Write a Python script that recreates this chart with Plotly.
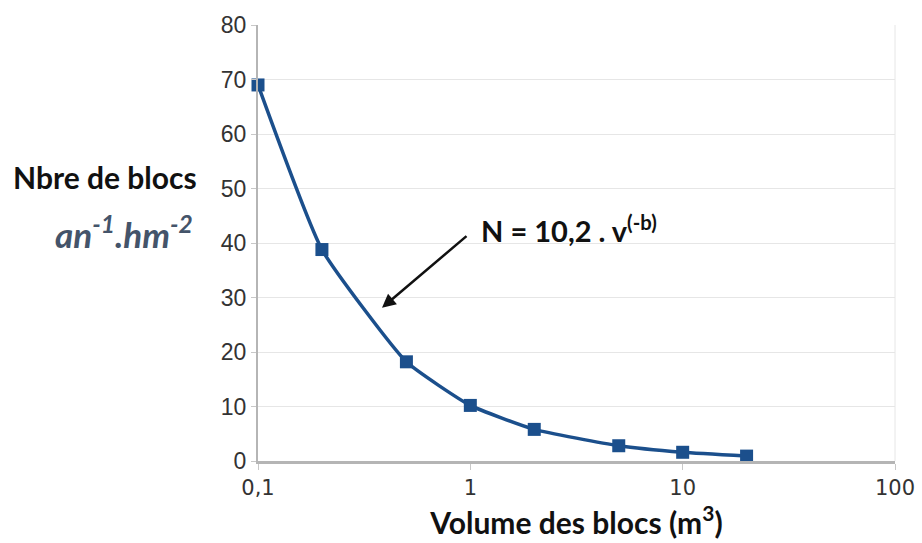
import plotly.graph_objects as go

volume = [0.1, 0.2, 0.5, 1, 2, 5, 10, 20]
nbre = [69, 38.8, 18.2, 10.2, 5.8, 2.8, 1.6, 0.9]
x_tickvals = [0.1, 1, 10, 100]
x_ticktext = ["0,1", "1", "10", "100"]
y_tickvals = [0, 10, 20, 30, 40, 50, 60, 70, 80]

blue = "#1b4f8c"
fig = go.Figure()
fig.add_trace(go.Scatter(
    x=volume, y=nbre, mode="lines+markers", cliponaxis=False,
    line=dict(color=blue, width=3.5, shape="spline", smoothing=0.45),
    marker=dict(symbol="square", size=13, color=blue),
    showlegend=False,
))

fig.update_layout(
    width=922, height=543,
    margin=dict(l=258, r=27, t=25, b=82),
    paper_bgcolor="white", plot_bgcolor="white",
    font=dict(family="Liberation Sans, Arial", color="#222"),
    xaxis=dict(
        type="log", range=[-1, 2], automargin=False,
        tickvals=x_tickvals, ticktext=x_ticktext,
        showgrid=False, zeroline=False,
        showline=True, linecolor="#b5b5b5", linewidth=2.5,
        ticks="outside", ticklen=6, tickcolor="#c8c8c8",
        tickfont=dict(size=21, family="DejaVu Sans", color="#333"),
        title=dict(text="<b>Volume des blocs (m<sup>3</sup>)</b>",
                   font=dict(size=30, family="Lato", color="#111"),
                   standoff=6),
    ),
    yaxis=dict(
        range=[0, 80], tickvals=y_tickvals, automargin=False,
        showgrid=True, gridcolor="#e6e6e6", gridwidth=1,
        zeroline=False,
        showline=True, linecolor="#b5b5b5", linewidth=2,
        ticks="outside", ticklen=5, tickcolor="#c8c8c8",
        tickfont=dict(size=23, family="Liberation Sans", color="#333"),
    ),
    shapes=[dict(type="line", xref="paper", yref="paper", x0=1, x1=1, y0=0, y1=1,
                 line=dict(color="#e6e6e6", width=1))],
)

fig.add_annotation(xref="paper", yref="paper", x=-0.388, y=0.652, xanchor="left",
                   text="<b>Nbre de blocs</b>", showarrow=False,
                   font=dict(size=30, family="Lato", color="#111"))
fig.add_annotation(xref="paper", yref="paper", x=-0.099, y=0.525, xanchor="right",
                   text="<b><i>an<sup>-1</sup>.hm<sup>-2</sup></i></b>", showarrow=False,
                   font=dict(size=35, family="Lato", color="#44546a"))
fig.add_annotation(x=-0.416, y=28.1, xref="x", yref="y",
                   ax=-0.011, ay=41.5, axref="x", ayref="y",
                   text="", showarrow=True, arrowhead=2, arrowsize=1.1,
                   arrowwidth=2.5, arrowcolor="#111")
fig.add_annotation(x=0.04, y=42.6, xref="x", yref="y", xanchor="left",
                   text="<b>N = 10,2 . v<sup>(-b)</sup></b>", showarrow=False,
                   font=dict(size=29, family="Lato", color="#111"))

fig.write_html("out.html", config={"displayModeBar": False},
               post_script="document.body.style.margin='0';")
